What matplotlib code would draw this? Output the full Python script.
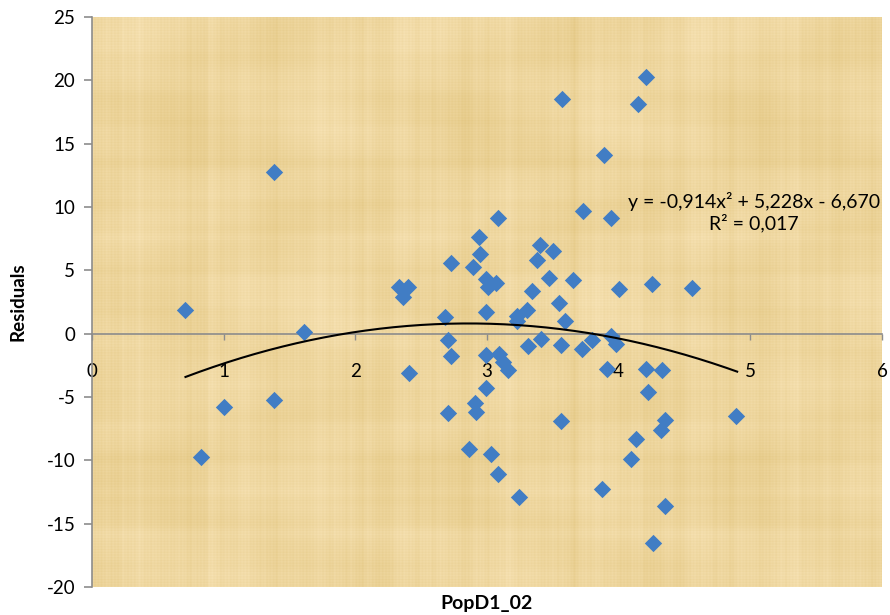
import matplotlib
matplotlib.use("Agg")
import matplotlib.pyplot as plt
import numpy as np

plt.rcParams['font.family'] = ['Lato', 'DejaVu Sans']
plt.rcParams['axes.unicode_minus'] = False

# data (PopD1_02 vs residuals)
pop_x = [0.71, 0.83, 1.00, 1.38, 1.38, 1.61, 2.33, 2.40, 2.36, 2.41,
         2.68, 2.70, 2.73, 2.70, 2.73, 2.86, 2.89, 2.91, 2.92, 2.94,
         2.95, 2.99, 3.01, 3.07, 2.99, 2.99, 2.99, 3.03, 3.08, 3.08,
         3.09, 3.12, 3.16, 3.23, 3.23, 3.24, 3.30, 3.31, 3.34, 3.38,
         3.40, 3.41, 3.47, 3.50, 3.55, 3.56, 3.56, 3.57, 3.59, 3.65,
         3.72, 3.73, 3.80, 3.87, 3.89, 3.91, 3.94, 3.94, 3.98, 4.00,
         4.09, 4.13, 4.15, 4.21, 4.21, 4.22, 4.25, 4.26, 4.32, 4.33,
         4.35, 4.35, 4.56, 4.89]
residuals = [1.9, -9.7, -5.8, 12.8, -5.2, 0.1, 3.7, 3.7, 2.9, -3.1,
             1.3, -0.5, -1.8, -6.3, 5.6, -9.1, 5.3, -5.5, -6.2, 7.6,
             6.3, 4.3, 3.7, 4.0, 1.7, -1.7, -4.3, -9.5, 9.1, -11.1,
             -1.6, -2.2, -2.9, 1.4, 1.0, -12.9, 1.9, -1.0, 3.4, 5.8,
             7.0, -0.4, 4.4, 6.5, 2.4, -0.9, -6.9, 18.5, 1.0, 4.2,
             -1.2, 9.7, -0.5, -12.3, 14.1, -2.8, 9.1, -0.2, -0.8, 3.5,
             -9.9, -8.3, 18.1, 20.3, -2.8, -4.6, 3.9, -16.5, -7.6, -2.9,
             -6.8, -13.6, 3.6, -6.5]

# polynomial trendline (order 2) as printed on the chart
coef = [-0.914, 5.228, -6.670]
r2 = 0.017
trend_start, trend_end = 0.71, 4.90

x_ticks = [0, 1, 2, 3, 4, 5, 6]
y_ticks = [-20, -15, -10, -5, 0, 5, 10, 15, 20, 25]

fig = plt.figure(figsize=(8.9, 6.15), dpi=100)
ax = fig.add_axes([92/890, 1-587/615, (882-92)/890, (587-17)/615])

# papyrus-like background texture
H, W = 570, 790
yy, xx = np.mgrid[0:H, 0:W]
cols = np.zeros(W)
for i in range(1, 16):
    f = 0.013 * i * 1.618 ** (i % 5)
    cols += np.sin(np.arange(W) * f + i * 2.3) / i ** 0.5
rows = np.zeros(H)
for i in range(1, 14):
    f = 0.015 * i * 1.414 ** (i % 4)
    rows += np.sin(np.arange(H) * f + i * 1.7) / i ** 0.5
cols = cols / np.abs(cols).max()
rows = rows / np.abs(rows).max()
weave = np.sin(xx * 1.9) * 0.5 + np.sin(yy * 2.3) * 0.5
blot = np.sin(xx / 47.0 + np.sin(yy / 33.0)) * np.sin(yy / 29.0 + 1.2)
shade = 6 * cols[None, :] + 4 * rows[:, None] + 3 * weave + 4 * blot
base = np.array([238, 214, 158], dtype=float)
tint = np.array([0.8, 1.1, 2.0])
tex = base[None, None, :] + shade[:, :, None] * tint[None, None, :]
tex = np.clip(tex, 0, 255) / 255.0
ax.imshow(tex, extent=[0, 6, -20, 25], aspect='auto', zorder=0, interpolation='bilinear')

ax.set_xlim(0, 6)
ax.set_ylim(-20, 25)

ax.scatter(pop_x, residuals, marker='D', s=78, color='#417DC4', linewidths=0, zorder=3)

tx = np.linspace(trend_start, trend_end, 200)
ty = np.polyval(coef, tx)
ax.plot(tx, ty, color='black', lw=1.5, zorder=4)

ax.text(5.03, 9.6, 'y = -0,914x² + 5,228x - 6,670\nR² = %s' % ('%.3f' % r2).replace('.', ','),
        ha='center', va='center', fontsize=14, color='black', linespacing=1.15, zorder=5)

# axes styling (Excel-like)
for s in ['top', 'right']:
    ax.spines[s].set_visible(False)
ax.spines['left'].set_color('#8C8C8C')
ax.spines['left'].set_linewidth(1.2)
ax.spines['bottom'].set_position(('data', 0))
ax.spines['bottom'].set_color('#8C8C8C')
ax.spines['bottom'].set_linewidth(1.2)

ax.set_xticks(x_ticks)
ax.set_yticks(y_ticks)
ax.tick_params(axis='y', direction='out', length=6, width=1.2, color='#8C8C8C',
               labelsize=13.5, pad=6)
ax.tick_params(axis='x', direction='out', length=4, width=1.0, color='#8C8C8C',
               labelsize=13.5, pad=17)

ax.set_ylabel('Residuals', fontsize=13.5, fontweight='bold')
ax.yaxis.set_label_coords(-0.083, 0.5)
fig.text(487/890, 1-603/615, 'PopD1_02', ha='center', va='center', fontsize=14, fontweight='bold')

fig.savefig('out.png', dpi=100)
